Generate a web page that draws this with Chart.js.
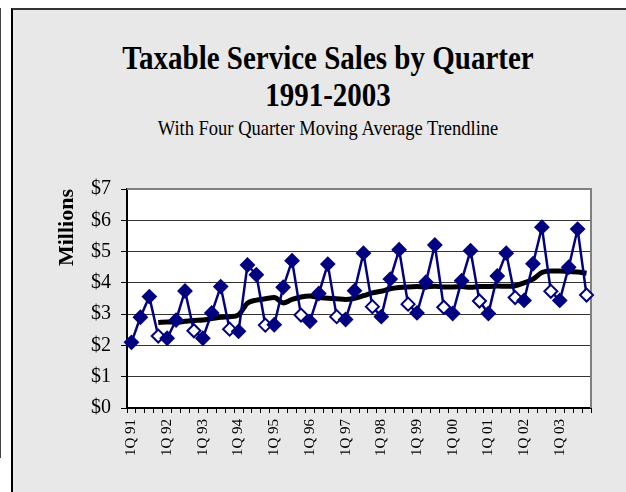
<!DOCTYPE html>
<html>
<head>
<meta charset="utf-8">
<script src="https://cdn.jsdelivr.net/npm/chart.js@4/dist/chart.umd.min.js"></script>
<style>
  html, body { margin: 0; padding: 0; background: #fff; }
  body { width: 626px; height: 492px; position: relative; overflow: hidden;
         font-family: "Liberation Serif", "Times New Roman", serif; }
  #edge { position: absolute; left: 0; top: 8px; width: 1px; height: 450px; background: #444; }
  #panel { position: absolute; left: 11px; top: 8px; right: 0; bottom: 0;
           background: #e8e8e8; border-left: 2px solid #000; border-top: 2px solid #333; }
  .ttl { position: absolute; left: 28px; width: 600px; text-align: center; color: #000;
         white-space: nowrap; transform: scaleY(1.15); transform-origin: 50% 50%; }
  #t1 { top: 42px; font-size: 29px; font-weight: bold; }
  #t2 { top: 79px; font-size: 29px; font-weight: bold; }
  #t3 { top: 118px; font-size: 18.5px; }
  #wrap { position: absolute; left: 13px; top: 150px; width: 613px; height: 342px; }
</style>
</head>
<body>
<div id="edge"></div>
<div id="panel"></div>
<div class="ttl" id="t1">Taxable Service Sales by Quarter</div>
<div class="ttl" id="t2">1991-2003</div>
<div class="ttl" id="t3">With Four Quarter Moving Average Trendline</div>
<div id="wrap"><canvas id="chart" width="613" height="342"></canvas></div>
<script>
  // quarters 1Q 91 .. 4Q 03
  const years = ["91","92","93","94","95","96","97","98","99","00","01","02","03"];
  const quarters = ["1Q","2Q","3Q","4Q"];

  // quarterly taxable service sales, $ millions
  const sales = [
    2.10, 2.90, 3.56, 2.30,
    2.23, 2.81, 3.74, 2.47,
    2.23, 3.04, 3.88, 2.52,
    2.45, 4.57, 4.26, 2.65,
    2.66, 3.86, 4.71, 2.97,
    2.77, 3.66, 4.60, 2.92,
    2.83, 3.75, 4.95, 3.24,
    2.92, 4.12, 5.06, 3.32,
    3.04, 4.02, 5.21, 3.22,
    3.02, 4.07, 5.03, 3.42,
    3.02, 4.22, 4.95, 3.53,
    3.44, 4.61, 5.78, 3.73,
    3.44, 4.50, 5.72, 3.61
  ];

  // four quarter moving average trendline
  const movingAvg = [
    null, null, null, 2.73,
    2.75, 2.74, 2.77, 2.80,
    2.81, 2.86, 2.90, 2.92,
    2.98, 3.35, 3.45, 3.49,
    3.53, 3.36, 3.47, 3.55,
    3.58, 3.53, 3.51, 3.49,
    3.47, 3.51, 3.59, 3.68,
    3.73, 3.81, 3.85, 3.87,
    3.88, 3.87, 3.89, 3.87,
    3.87, 3.88, 3.86, 3.88,
    3.88, 3.90, 3.89, 3.91,
    4.00, 4.12, 4.33, 4.38,
    4.38, 4.36, 4.35, 4.31
  ];

  const yTicks = [0, 1, 2, 3, 4, 5, 6, 7];

  const labels = [];
  years.forEach(y => quarters.forEach(q => labels.push(q + " " + y)));

  const NAVY = "#000080";
  const serif = "'Liberation Serif', 'Times New Roman', serif";

  // white plot area with grey top/right frame
  const plotFrame = {
    id: "plotFrame",
    beforeDraw(chart) {
      const { ctx, chartArea: a } = chart;
      ctx.save();
      ctx.fillStyle = "#fff";
      ctx.fillRect(a.left, a.top, a.right - a.left, a.bottom - a.top);
      ctx.restore();
    },
    beforeDatasetsDraw(chart) {
      const { ctx, chartArea: a } = chart;
      ctx.save();
      ctx.strokeStyle = "#808080";
      ctx.lineWidth = 2;
      ctx.beginPath();
      ctx.moveTo(a.left, a.top);
      ctx.lineTo(a.right, a.top);
      ctx.lineTo(a.right, a.bottom);
      ctx.stroke();
      ctx.restore();
    }
  };

  new Chart(document.getElementById("chart").getContext("2d"), {
    type: "line",
    data: {
      labels: labels,
      datasets: [
        {
          label: "Sales",
          data: sales,
          borderColor: NAVY,
          borderWidth: 2.5,
          tension: 0,
          pointStyle: "rectRot",
          pointRadius: 6.5,
          pointBorderWidth: 2,
          pointBorderColor: NAVY,
          pointBackgroundColor: labels.map(l => l.startsWith("4Q") ? "#fff" : NAVY)
        },
        {
          label: "Moving Average",
          data: movingAvg,
          borderColor: "#000",
          borderWidth: 5,
          pointRadius: 0,
          cubicInterpolationMode: "monotone",
          spanGaps: false
        }
      ]
    },
    options: {
      responsive: false,
      animation: false,
      events: [],
      layout: { padding: { left: 0, top: 39, right: 35, bottom: 0 } },
      plugins: { legend: { display: false }, tooltip: { enabled: false } },
      scales: {
        x: {
          offset: true,
          grid: { offset: true, drawOnChartArea: false, drawTicks: true, tickLength: 5, tickColor: "#000", tickWidth: 1 },
          border: { color: "#000", width: 2 },
          ticks: {
            autoSkip: false, minRotation: 90, maxRotation: 90, padding: 6,
            color: "#000", font: { family: serif, size: 15 },
            callback: (v, i) => (i % 4 === 0 ? labels[i] : "")
          },
          afterFit(scale) { scale.height = 84; }
        },
        y: {
          min: 0, max: 7,
          afterBuildTicks(scale) { scale.ticks = yTicks.map(v => ({ value: v })); },
          grid: { color: "#333", lineWidth: 1, drawTicks: true, tickLength: 6, tickColor: "#000" },
          border: { color: "#000", width: 2 },
          ticks: {
            padding: 10, color: "#000", font: { family: serif, size: 20 },
            callback: v => "$" + v
          },
          title: {
            display: true, text: "Millions", align: "end", color: "#000",
            font: { family: serif, size: 22, weight: "bold" },
            padding: { top: 41, bottom: 0 }
          },
          afterFit(scale) { scale.width = 114; }
        }
      }
    },
    plugins: [plotFrame]
  });
</script>
</body>
</html>
